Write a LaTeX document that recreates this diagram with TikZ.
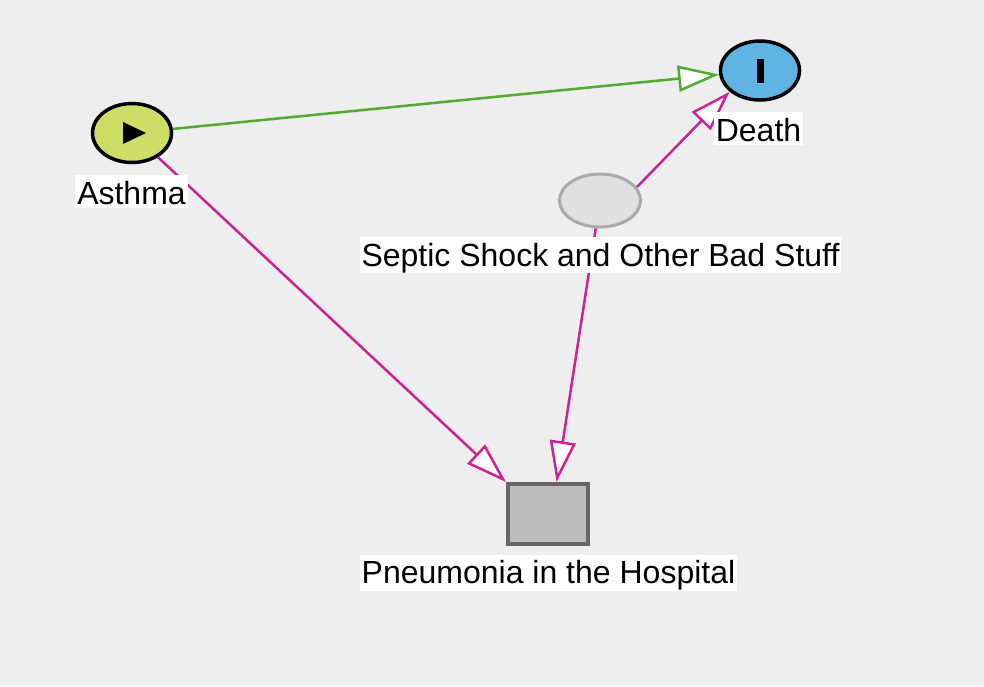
\documentclass[tikz,border=0pt]{standalone}
\usepackage{fontspec}
\setmainfont{Liberation Sans}
\usetikzlibrary{arrows.meta,shapes.geometric,calc}
\definecolor{bgc}{RGB}{238,238,238}
\definecolor{greenedge}{RGB}{82,170,48}
\definecolor{magedge}{RGB}{204,34,150}
\definecolor{asthmafill}{RGB}{205,222,102}
\definecolor{deathfill}{RGB}{95,180,228}
\definecolor{septicfill}{RGB}{224,224,224}
\definecolor{septicdraw}{RGB}{170,170,170}
\definecolor{rectfill}{RGB}{190,190,190}
\definecolor{rectdraw}{RGB}{102,102,102}
\tikzset{
  stateell/.style={ellipse, draw=black, line width=3.5pt, minimum width=79pt, minimum height=59pt, inner sep=0pt},
  lbl/.style={fill=white, font=\fontsize{32}{36}\selectfont, text height=26pt, text depth=4pt, inner xsep=2pt, inner ysep=3pt},
  lblnd/.style={lbl, text depth=1pt},
  edge/.style={line width=2.5pt, -{Triangle[length=41pt,width=26pt,fill=white]}},
}
\begin{document}
\begin{tikzpicture}[x=1pt,y=-1pt]
\fill[bgc] (0,0) rectangle (984,686);
\useasboundingbox (0,0) rectangle (984,686);
% shapes
\node[stateell, fill=asthmafill] (asthma) at (132,133) {};
\node[stateell, fill=deathfill] (death) at (760,70.5) {};
\node[ellipse, draw=septicdraw, fill=septicfill, line width=3pt, minimum width=81pt, minimum height=53pt, inner sep=0pt] (septic) at (600,200.5) {};
\node[rectangle, draw=rectdraw, fill=rectfill, line width=4pt, minimum width=80pt, minimum height=60pt, inner sep=0pt] (pneu) at (548,514) {};
% icons
\fill[black] ($(asthma.center)+(-9,-11)$) -- ($(asthma.center)+(-9,11)$) -- ($(asthma.center)+(14,0)$) -- cycle;
\fill[black] ($(death.center)+(-3.5,-12)$) rectangle ($(death.center)+(3.5,12)$);
% edges
\draw[edge, greenedge] (asthma) -- (death);
\draw[edge, magedge] (asthma) -- (pneu.north west);
\draw[edge, magedge] (septic) -- (pneu.75);
\draw[edge, magedge] (septic.20) -- (death.215);
% labels
\node[lblnd] (asthmal) at (131.5,191.5) {Asthma};
\node[lblnd] (deathl) at (758.5,128.5) {Death};
\node[lbl] (septicl) at (600.5,255) {Septic Shock and Other Bad Stuff};
\node[lbl] (pneul) at (548.5,572.5) {Pneumonia in the Hospital};
\end{tikzpicture}
\end{document}
